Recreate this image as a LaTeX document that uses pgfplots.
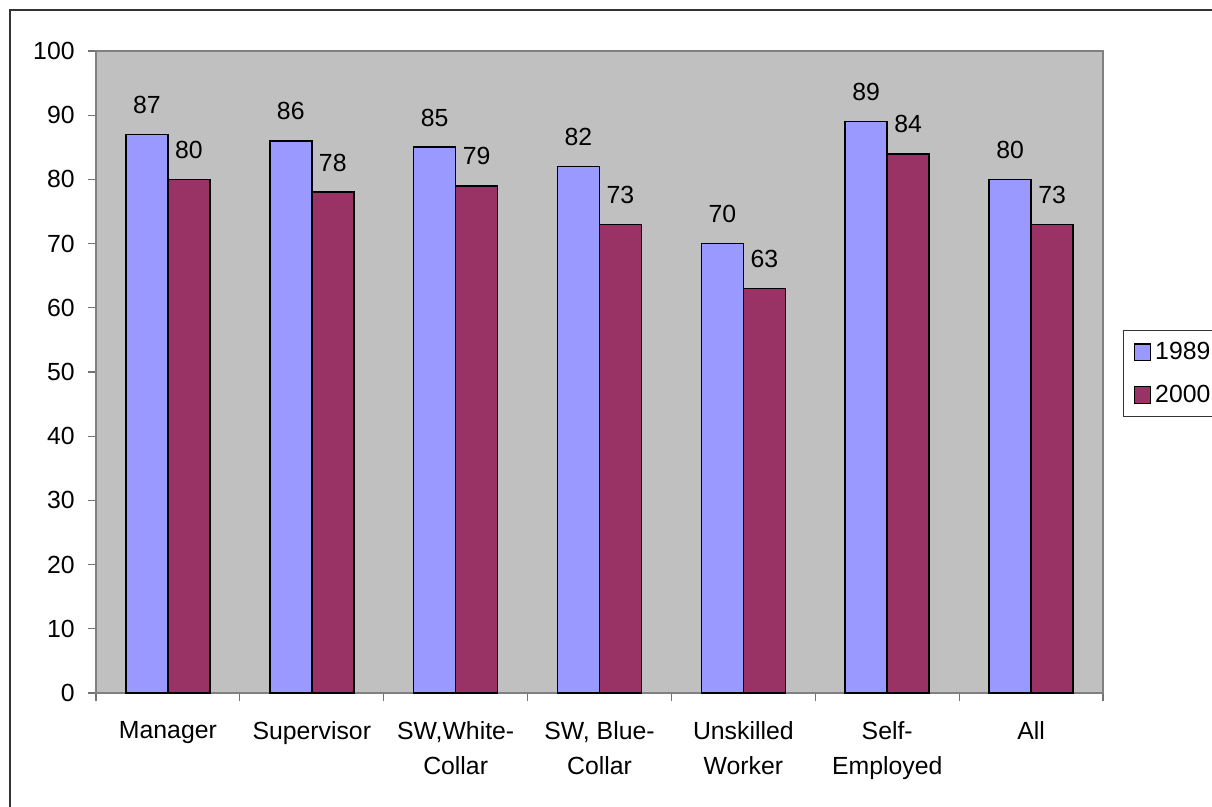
\documentclass[border=0pt]{standalone}
\usepackage{pgfplots}
\pgfplotsset{compat=1.18}
\usepackage{fontspec}
\setmainfont{Liberation Sans}
\definecolor{plotbg}{HTML}{C0C0C0}
\definecolor{barA}{HTML}{9999FF}
\definecolor{barB}{HTML}{993366}
\newcommand\chartfont{\fontsize{12.4}{17.5}\selectfont}

\begin{document}
\begin{tikzpicture}
\useasboundingbox (0,0) rectangle (606pt,-403.5pt);
\clip (0,0) rectangle (606pt,-403.5pt);
% outer chart frame
\draw[black!80, line width=0.75pt] (5pt,-5pt) rectangle (640pt,-440pt);
\begin{axis}[
  at={(48pt,-346.5pt)}, anchor=south west,
  width=503.5pt, height=321pt, scale only axis,
  xmin=-0.5, xmax=6.5, ymin=0, ymax=100,
  ybar=0pt, bar width=21pt,
  axis background/.style={fill=plotbg},
  axis line style={draw=black!50, line width=0.6pt},
  tick align=outside, tick pos=left,
  major tick length=4pt, minor tick length=4pt,
  tick style={draw=black!55, line width=0.6pt},
  ytick={0,10,...,100},
  xtick={0,...,6},
  major x tick style={draw=none},
  minor xtick={-0.5,0.5,...,6.5},
  xticklabels={Manager, Supervisor, {SW,White-\\Collar}, {SW, Blue-\\Collar}, {Unskilled\\Worker}, {Self-\\Employed}, All},
  xticklabel style={align=center, font=\chartfont, inner sep=0pt, anchor=north, yshift=-10pt},
  yticklabel style={font=\chartfont, inner sep=0pt, anchor=east, xshift=-6.5pt},
  /pgf/number format/assume math mode=true,
  nodes near coords,
  every node near coord/.append style={font=\chartfont, anchor=south, inner sep=0pt, yshift=10pt},
  legend style={at={(1.0199,0.5654)}, anchor=north west, draw=black!80, fill=white,
    line width=0.6pt, font=\chartfont, inner xsep=5pt, inner ysep=5.7pt,
    row sep=11.3pt, nodes={inner sep=0pt},
    /tikz/every odd column/.append style={column sep=2pt}},
  legend cell align=left,
]
\addplot[fill=barA, draw=black, line width=0.8pt,
  legend image code/.code={\draw[fill=barA, draw=black, line width=0.6pt] (0pt,-4.1pt) rectangle (8.2pt,4.1pt);}]
  coordinates {(0,87) (1,86) (2,85) (3,82) (4,70) (5,89) (6,80)};
\addplot[fill=barB, draw=black, line width=0.8pt,
  legend image code/.code={\draw[fill=barB, draw=black, line width=0.6pt] (0pt,-4.1pt) rectangle (8.2pt,4.1pt);}]
  coordinates {(0,80) (1,78) (2,79) (3,73) (4,63) (5,84) (6,73)};
\legend{1989, 2000}
\end{axis}
\end{tikzpicture}
\end{document}
